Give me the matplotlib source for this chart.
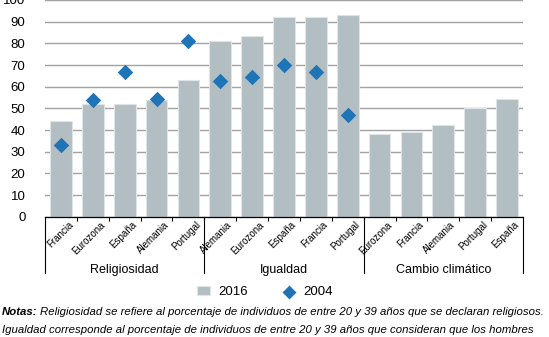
import numpy as np
import matplotlib.pyplot as plt
import matplotlib.transforms as mtransforms

plt.rcParams['font.family'] = ['Liberation Sans', 'DejaVu Sans']

groups = ['Religiosidad', 'Igualdad', 'Cambio climático']
cats_relig = ['Francia', 'Eurozona', 'España', 'Alemania', 'Portugal']
cats_igual = ['Alemania', 'Eurozona', 'España', 'Francia', 'Portugal']
cats_clima = ['Eurozona', 'Francia', 'Alemania', 'Portugal', 'España']

v2016_relig = [44, 52, 52, 53.7, 63.3]
v2016_igual = [81, 83.3, 92.1, 92, 93]
v2016_clima = [38.3, 39, 42.3, 50.2, 54.4]

v2004_relig = [32.9, 54, 66.7, 54.5, 81]
v2004_igual = [62.8, 64.4, 69.8, 66.9, 47]

yticks = [0, 10, 20, 30, 40, 50, 60, 70, 80, 90, 100]

labels = cats_relig + cats_igual + cats_clima
vals16 = v2016_relig + v2016_igual + v2016_clima
vals04 = v2004_relig + v2004_igual
x = np.arange(len(labels)) + 0.5
x04 = x[:len(vals04)]

bar_col = '#b2bec2'
dia_col = '#1f73b7'

fig = plt.figure(figsize=(5.49, 3.37), dpi=100)
ax = fig.add_axes([45 / 549, 1 - 216.7 / 337, 478 / 549, 216.7 / 337])

h16 = ax.bar(x, vals16, width=0.68, color=bar_col, edgecolor='#dfe5e7',
             linewidth=0.8, zorder=2)
h04 = ax.scatter(x04, vals04, marker='D', s=62, color=dia_col, zorder=3,
                 linewidths=0)

ax.set_xlim(0, len(labels))
ax.set_ylim(0, 100)
ax.set_yticks(yticks)
ax.tick_params(axis='y', length=0, pad=14, labelsize=9.5)
ax.yaxis.grid(True, color='#a3a3a3', linewidth=1.0, zorder=0)
ax.set_axisbelow(True)
for s in ['top', 'right', 'left']:
    ax.spines[s].set_visible(False)
ax.spines['bottom'].set_color('black')
ax.spines['bottom'].set_linewidth(0.9)

# small ticks between categories, labels drawn by hand
ax.set_xticks(np.arange(1, len(labels)))
ax.set_xticklabels([])
ax.tick_params(axis='x', length=3, width=0.8, direction='out', color='black')

trans = mtransforms.blended_transform_factory(ax.transData, ax.transAxes)
for xi, lab in zip(x, labels):
    ax.text(xi + 0.33, -0.03, lab, transform=trans, rotation=45,
            rotation_mode='anchor', ha='right', va='center', fontsize=7)

# group separators and group names
for b in [0, 5, 10, 15]:
    ax.plot([b, b], [0, -0.26], transform=trans, color='black',
            linewidth=0.8, clip_on=False)
for i, g in enumerate(groups):
    ax.text(5 * i + 2.5, -0.245, g, transform=trans, ha='center',
            va='center', fontsize=9)

fig.legend([h16, h04], ['2016', '2004'], loc='center',
           bbox_to_anchor=(265 / 549, 1 - 292 / 337),
           ncol=2, frameon=False, fontsize=9.5, handlelength=1.0,
           handletextpad=0.6, columnspacing=2.6, markerscale=0.9)

notas = fig.text(2 / 549, 1 - 312 / 337, 'Notas:', fontsize=8.2,
                 weight='bold', style='italic', va='center', ha='left')
ax.annotate('Religiosidad se refiere al porcentaje de individuos de entre 20 y 39 años que se declaran religiosos.',
            xy=(1, 0.5), xycoords=notas, xytext=(1.5, 0),
            textcoords='offset points', fontsize=8.2, style='italic',
            va='center', ha='left', annotation_clip=False)
fig.text(2 / 549, 1 - 330 / 337,
         'Igualdad corresponde al porcentaje de individuos de entre 20 y 39 años que consideran que los hombres',
         fontsize=8.2, style='italic', va='center', ha='left')

fig.savefig('out.png', dpi=100)
